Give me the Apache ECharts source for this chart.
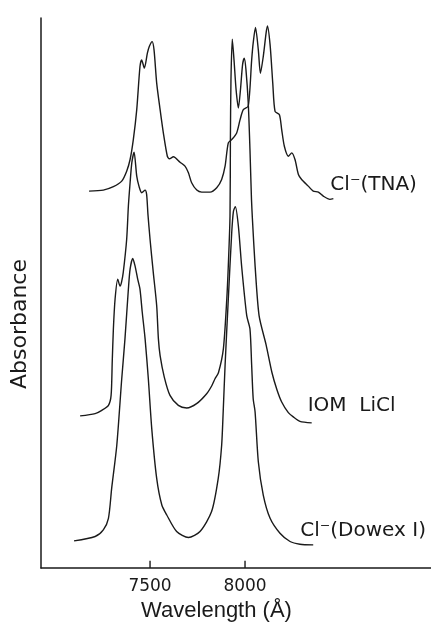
<!DOCTYPE html>
<html>
<head>
<meta charset="utf-8">
<script src="https://cdn.jsdelivr.net/npm/echarts@6/dist/echarts.min.js"></script>
<style>
  html, body { margin: 0; padding: 0; background: #fff; }
  #chart { width: 431px; height: 627px; }
</style>
</head>
<body>
<div id="chart"></div>
<script>
// Absorption spectra, offset vertically; [wavelength (Å), absorbance]
const seriesNames = ['Cl⁻(TNA)', 'IOM  LiCl', 'Cl⁻(Dowex I)'];

const tnaSpectrum = [
  [7179, 3.783], [7254, 3.793], [7307, 3.827], [7351, 3.883], [7377, 3.983],
  [7395, 4.10], [7412, 4.30], [7430, 4.60], [7447, 5.033], [7456, 5.10],
  [7470, 5.017], [7486, 5.167], [7496, 5.233], [7511, 5.283], [7521, 5.20],
  [7535, 4.867], [7553, 4.60], [7570, 4.367], [7591, 4.133], [7602, 4.107],
  [7623, 4.127], [7658, 4.073], [7684, 4.033], [7702, 3.967], [7719, 3.867],
  [7746, 3.793], [7772, 3.773], [7816, 3.773], [7851, 3.817], [7877, 3.90],
  [7895, 4.033], [7912, 4.267], [7930, 4.30], [7956, 4.367], [7974, 4.50],
  [7991, 4.60], [8017, 4.637], [8035, 5.10], [8043, 5.27], [8055, 5.425],
  [8070, 5.20], [8081, 4.965], [8096, 5.133], [8111, 5.37], [8118, 5.44],
  [8132, 5.25], [8146, 4.867], [8158, 4.583], [8181, 4.55], [8193, 4.40],
  [8207, 4.233], [8228, 4.133], [8246, 4.167], [8263, 4.10], [8281, 3.95],
  [8298, 3.90], [8333, 3.833], [8359, 3.783], [8386, 3.773], [8412, 3.733],
  [8447, 3.70], [8465, 3.707]
];

const liclSpectrum = [
  [7132, 1.527], [7211, 1.55], [7246, 1.583], [7281, 1.633], [7295, 1.733],
  [7301, 2.07], [7307, 2.40], [7316, 2.70], [7330, 2.90], [7342, 2.83],
  [7350, 2.87], [7359, 2.967], [7377, 3.30], [7386, 3.633], [7395, 3.867],
  [7404, 4.067], [7416, 4.173], [7430, 3.933], [7442, 3.83], [7456, 3.767],
  [7474, 3.793], [7482, 3.75], [7489, 3.55], [7500, 3.30], [7517, 2.967],
  [7535, 2.633], [7544, 2.30], [7553, 2.133], [7575, 1.917], [7605, 1.733],
  [7649, 1.633], [7693, 1.607], [7745, 1.65], [7798, 1.75], [7825, 1.83],
  [7842, 1.90], [7860, 1.96], [7886, 2.20], [7904, 2.70], [7912, 3.033],
  [7921, 3.533], [7923, 4.30], [7926, 4.90], [7933, 5.307], [7942, 5.10],
  [7953, 4.80], [7965, 4.617], [7976, 4.80], [7987, 5.05], [7996, 5.117],
  [8005, 5.00], [8017, 4.667], [8026, 4.20], [8034, 3.70], [8039, 3.50],
  [8053, 3.033], [8074, 2.533], [8111, 2.24], [8142, 1.96], [8168, 1.79],
  [8193, 1.667], [8228, 1.56], [8254, 1.517], [8289, 1.473], [8351, 1.457]
];

const dowexSpectrum = [
  [7100, 0.273], [7211, 0.317], [7254, 0.383], [7281, 0.50], [7298, 0.80],
  [7325, 1.233], [7351, 1.90], [7368, 2.30], [7386, 2.80], [7395, 3.00],
  [7409, 3.107], [7421, 3.033], [7435, 2.90], [7447, 2.80], [7459, 2.567],
  [7474, 2.30], [7491, 1.90], [7509, 1.40], [7535, 0.90], [7562, 0.633],
  [7588, 0.533], [7640, 0.367], [7702, 0.307], [7763, 0.367], [7824, 0.567],
  [7859, 0.90], [7877, 1.233], [7885, 1.567], [7895, 2.033], [7912, 2.70],
  [7930, 3.367], [7939, 3.58], [7949, 3.627], [7965, 3.433], [7982, 3.033],
  [8009, 2.533], [8026, 2.40], [8035, 2.033], [8043, 1.70], [8053, 1.567],
  [8070, 1.067], [8096, 0.733], [8132, 0.50], [8184, 0.35], [8237, 0.267],
  [8289, 0.24], [8359, 0.233]
];

const xTickValues = [7500, 8000];
// height of the inward tick marks, in absorbance units
const tickHeight = 0.075;

const chart = echarts.init(document.getElementById('chart'));

const ink = '#1a1a1a';
const labelFont = 'DejaVu Sans';

function spectrum(name, data, offset) {
  return {
    name: name,
    type: 'line',
    data: data,
    symbol: 'none',
    smooth: 0.25,
    lineStyle: { color: ink, width: 1.4 },
    endLabel: {
      show: true,
      formatter: '{a}',
      color: ink,
      fontFamily: labelFont,
      fontSize: 20,
      distance: 0,
      offset: offset
    },
    silent: true,
    animation: false
  };
}

// short inward tick marks on the wavelength axis, one segment per value
const tickSegments = [];
xTickValues.forEach(function (v, i) {
  if (i > 0) tickSegments.push('-');
  tickSegments.push([v, 0], [v, tickHeight]);
});

const series = [
  spectrum(seriesNames[0], tnaSpectrum, [-3, -14]),
  spectrum(seriesNames[1], liclSpectrum, [-4, -17]),
  spectrum(seriesNames[2], dowexSpectrum, [-13, -14]),
  {
    name: 'ticks',
    type: 'line',
    data: tickSegments,
    connectNulls: false,
    symbol: 'none',
    lineStyle: { color: ink, width: 1.4 },
    silent: true,
    animation: false
  }
];

chart.setOption({
  backgroundColor: '#ffffff',
  animation: false,
  grid: { left: 41, right: 0, top: 18, bottom: 57 },
  xAxis: {
    type: 'value',
    min: 6926,
    max: 8979,
    name: 'Wavelength (Å)',
    nameLocation: 'middle',
    nameGap: 28,
    nameTextStyle: {
      color: ink, fontFamily: 'Liberation Sans', fontSize: 22,
      padding: [0, 39, 0, 0]
    },
    axisLine: { lineStyle: { color: ink, width: 1.5 } },
    axisTick: { show: false },
    axisLabel: {
      customValues: xTickValues,
      formatter: function (v) { return String(v); },
      color: ink, fontFamily: labelFont, fontSize: 17, margin: 10
    },
    splitLine: { show: false }
  },
  yAxis: {
    type: 'value',
    min: 0,
    max: 5.52,
    name: 'Absorbance',
    nameLocation: 'middle',
    nameGap: 10,
    nameTextStyle: {
      color: ink, fontFamily: labelFont, fontSize: 22,
      padding: [0, 62, 0, 0]
    },
    axisLine: { show: true, lineStyle: { color: ink, width: 1.5 } },
    axisTick: { show: false },
    axisLabel: { show: false },
    splitLine: { show: false }
  },
  series: series
});
</script>
</body>
</html>
